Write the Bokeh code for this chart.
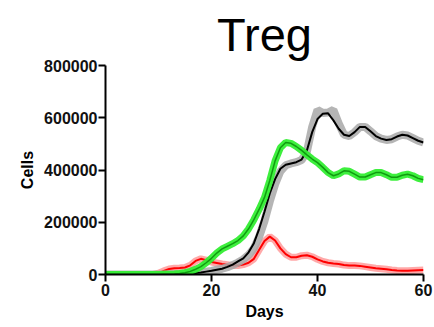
from bokeh.plotting import figure
from bokeh.models import Range1d, FixedTicker, BasicTickFormatter
from bokeh.embed import file_html
from bokeh.resources import INLINE

days = list(range(0, 61))

black = [0, 0, 0, 0, 0, 0, 0, 0, 0, 0,
         0, 0, 500, 1000, 2000, 3000, 4500, 6000, 8000, 11000,
         14000, 18000, 22000, 29000, 38000, 50000, 62000, 85000, 120000, 175000,
         240000, 310000, 365000, 405000, 420000, 425000, 430000, 440000, 475000, 545000,
         595000, 615000, 617000, 590000, 558000, 535000, 530000, 545000, 565000, 565000,
         548000, 530000, 520000, 515000, 518000, 528000, 535000, 532000, 522000, 512000,
         505000]

gray = [0, 0, 0, 0, 0, 0, 0, 0, 0, 0,
        0, 0, 500, 1000, 2000, 3000, 4500, 6000, 8000, 11000,
        14000, 18000, 22000, 28000, 36000, 46000, 58000, 75000, 100000, 145000,
        205000, 280000, 345000, 395000, 418000, 425000, 430000, 438000, 470000, 565000,
        630000, 618000, 620000, 630000, 578000, 535000, 530000, 545000, 565000, 565000,
        548000, 530000, 520000, 515000, 518000, 528000, 535000, 532000, 522000, 512000,
        505000]

green = [0, 0, 0, 0, 0, 0, 0, 0, 0, 0,
         0, 500, 1000, 2000, 4000, 7000, 12000, 20000, 30000, 45000,
         62000, 82000, 98000, 108000, 118000, 130000, 148000, 175000, 210000, 250000,
         295000, 360000, 435000, 485000, 505000, 502000, 490000, 475000, 458000, 442000,
         428000, 410000, 390000, 378000, 385000, 397000, 395000, 384000, 373000, 373000,
         382000, 390000, 390000, 382000, 372000, 372000, 380000, 384000, 378000, 368000,
         363000]

red = [0, 0, 0, 0, 0, 0, 0, 0, 0, 0,
       5000, 14000, 21000, 24000, 25000, 27000, 35000, 52000, 60000, 55000,
       48000, 44000, 40000, 37000, 34000, 34000, 38000, 45000, 60000, 95000,
       128000, 145000, 130000, 100000, 78000, 66000, 66000, 72000, 74000, 68000,
       58000, 50000, 45000, 42000, 40000, 36000, 34000, 34000, 33000, 30000,
       27000, 24000, 22000, 20000, 17000, 15000, 14000, 14000, 15000, 16000,
       17000]

x_ticks = [0, 20, 40, 60]
y_ticks = [0, 200000, 400000, 600000, 800000]

p = figure(width=434, height=327, output_backend="svg", toolbar_location=None,
           x_range=Range1d(0, 60), y_range=Range1d(0, 800000),
           title="Treg")
p.min_border_left = 105
p.min_border_right = 11
p.min_border_top = 62
p.min_border_bottom = 53
p.outline_line_color = None
p.background_fill_color = "white"
p.border_fill_color = "white"
p.xgrid.visible = False
p.ygrid.visible = False

p.title.align = "center"
p.title.text_font = "Liberation Sans"
p.title.text_font_size = "47px"
p.title.text_font_style = "normal"
p.title.text_color = "black"

for ax in (p.xaxis[0], p.yaxis[0]):
    ax.axis_line_width = 2
    ax.axis_line_color = "black"
    ax.major_tick_line_width = 2
    ax.major_tick_line_color = "black"
    ax.major_tick_out = 7
    ax.major_tick_in = 0
    ax.minor_tick_line_color = None
    ax.major_label_text_font = "Liberation Sans"
    ax.major_label_text_font_style = "bold"
    ax.major_label_text_font_size = "16px"
    ax.major_label_text_color = "#111111"
    ax.axis_label_text_font = "Liberation Sans"
    ax.axis_label_text_font_style = "bold"
    ax.axis_label_text_font_size = "16px"
    ax.axis_label_text_color = "black"

p.xaxis.ticker = FixedTicker(ticks=x_ticks)
p.yaxis.ticker = FixedTicker(ticks=y_ticks)
p.yaxis.formatter = BasicTickFormatter(use_scientific=False)
p.xaxis.axis_label = "Days"
p.yaxis.axis_label = "Cells"
p.xaxis.major_label_standoff = 2
p.yaxis.major_label_standoff = 1
p.xaxis.axis_label_standoff = 4
p.yaxis.axis_label_standoff = 5

p.line(days, red, line_color="#ff7070", line_width=7, line_alpha=0.6)
p.line(days, red, line_color="#ff0000", line_width=2)
p.line(days, gray, line_color="#a8a8a8", line_width=8, line_alpha=0.85)
p.line(days, black, line_color="#000000", line_width=2)
p.line(days, green, line_color="#33ee33", line_width=7, line_alpha=0.95)
p.line(days, green, line_color="#109a10", line_width=1.5)

open("out.html", "w").write(file_html(p, INLINE))
